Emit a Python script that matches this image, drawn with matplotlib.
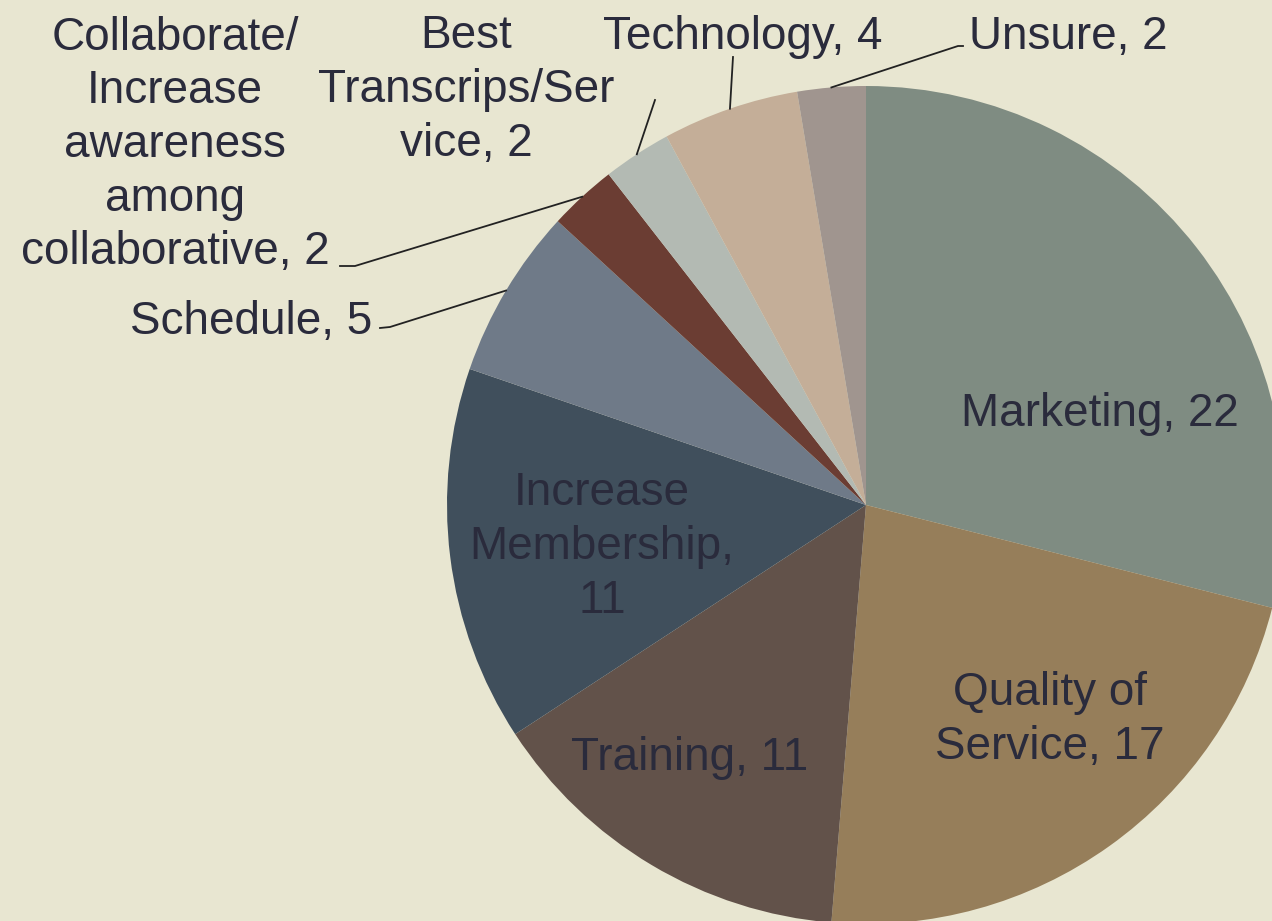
import matplotlib.pyplot as plt
import numpy as np

plt.rcParams['font.family'] = ['Liberation Sans', 'DejaVu Sans']

categories = ['Marketing', 'Quality of Service', 'Training', 'Increase Membership',
              'Schedule', 'Collaborate/ Increase awareness among collaborative',
              'Best Transcrips/Service', 'Technology', 'Unsure']
values = [22, 17, 11, 11, 5, 2, 2, 4, 2]
colors = ['#7F8C82', '#967E5A', '#62524A', '#404F5C', '#6F7A88',
          '#6B3D33', '#B3BAB3', '#C4AE98', '#A0958F']
label_text = ['Marketing, 22', 'Quality of\nService, 17', 'Training, 11',
              'Increase\nMembership,\n11', 'Schedule, 5',
              'Collaborate/\nIncrease\nawareness\namong\ncollaborative, 2',
              'Best\nTranscrips/Ser\nvice, 2', 'Technology, 4', 'Unsure, 2']

W, H = 1272, 921
bg = '#E8E6D1'
txt = '#2A2B3C'
fs = 33
ls = 1.28

fig = plt.figure(figsize=(W / 100, H / 100), dpi=100, facecolor=bg)
ax = fig.add_axes([0, 0, 1, 1])
ax.set_facecolor(bg)

cx, cy, r = 866, H - 505, 419
wedges, _ = ax.pie(values, colors=colors, startangle=90, counterclock=False,
                   center=(cx, cy), radius=r, frame=True,
                   wedgeprops=dict(linewidth=0))
ax.set_xlim(0, W)
ax.set_ylim(0, H)
ax.set_aspect('auto')
ax.axis('off')

# label positions in pixel coordinates (x, y from top)
inside = {0: (1100, 414), 1: (1050, 720), 2: (690, 758), 3: (602, 547)}
for i, (x, y) in inside.items():
    ax.text(x, H - y, label_text[i], ha='center', va='center', fontsize=fs,
            color=txt, linespacing=ls)

# outside labels: text position, alignment, leader line points (near label)
outside = {
    4: ((372, 322), 'right', [(380, 328), (390, 327)]),
    5: ((175, 145), 'center', [(340, 266), (355, 266)]),
    6: ((466, 90), 'center', [(655, 100)]),
    7: ((743, 37), 'center', [(733, 57)]),
    8: ((1068, 37), 'center', [(963, 46), (958, 46)]),
}
for i, ((x, y), ha, pts) in outside.items():
    ax.text(x, H - y, label_text[i], ha=ha, va='center', fontsize=fs,
            color=txt, linespacing=ls)
    w = wedges[i]
    mid = np.deg2rad((w.theta1 + w.theta2) / 2)
    ex, ey = cx + r * np.cos(mid), cy + r * np.sin(mid)
    xs = [p[0] for p in pts] + [ex]
    ys = [H - p[1] for p in pts] + [ey]
    ax.plot(xs, ys, color='#222222', lw=1.3)

fig.savefig('out.png', dpi=100, facecolor=bg)
